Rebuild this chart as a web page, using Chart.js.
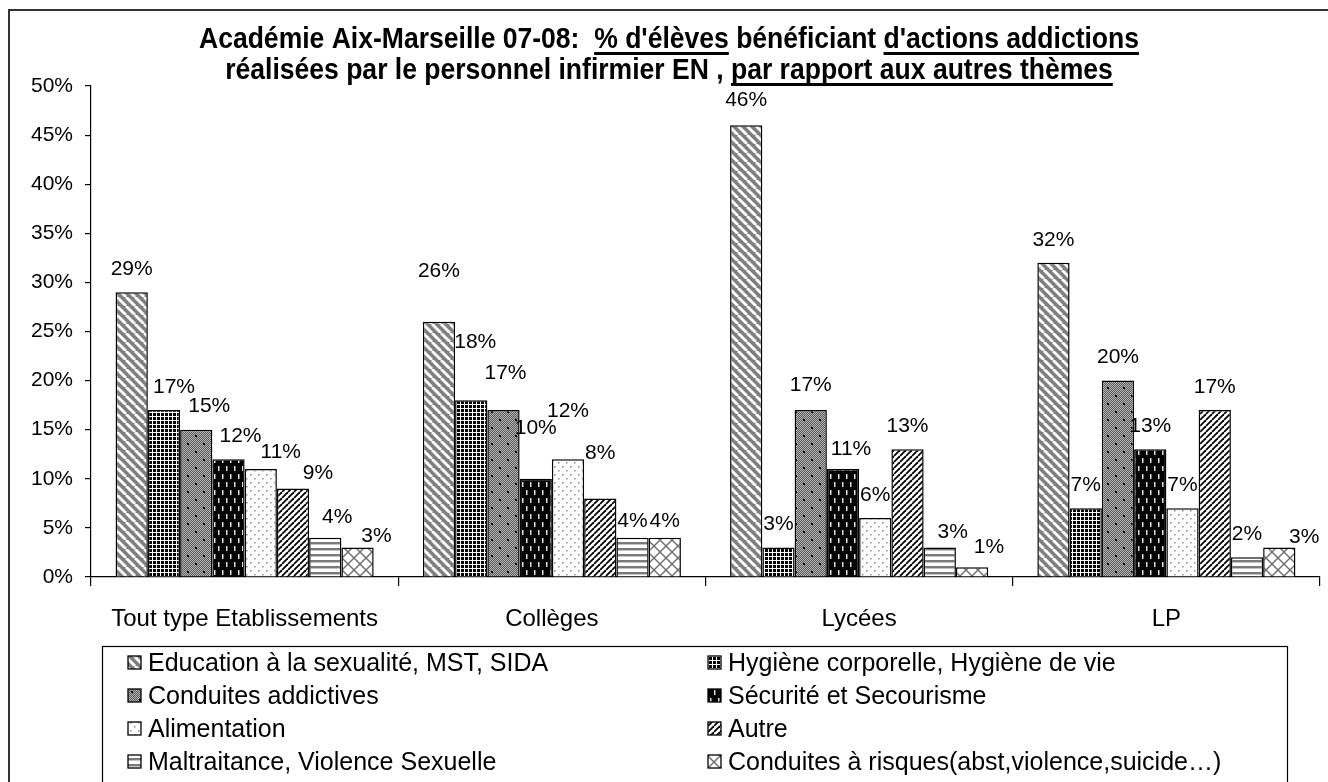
<!DOCTYPE html>
<html lang="fr">
<head>
<meta charset="UTF-8">
<title>Académie Aix-Marseille 07-08</title>
<script src="https://cdn.jsdelivr.net/npm/chart.js"></script>
<style>
  html, body { margin: 0; padding: 0; background: #fff; }
  #wrap { width: 1328px; height: 782px; position: relative; }
</style>
</head>
<body>
<div id="wrap"><canvas id="chart"></canvas></div>
<script>
// Data (percent of pupils)
const categories = ['Tout type Etablissements', 'Collèges', 'Lycées', 'LP'];
const themes = [
    'Education à la sexualité, MST, SIDA',
    'Hygiène corporelle, Hygiène de vie',
    'Conduites addictives',
    'Sécurité et Secourisme',
    'Alimentation',
    'Autre',
    'Maltraitance, Violence Sexuelle',
    'Conduites à risques(abst,violence,suicide…)'
];
const education    = [29, 26, 46, 32];
const hygiene      = [17, 18, 3, 7];
const addictives   = [15, 17, 17, 20];
const securite     = [12, 10, 11, 13];
const alimentation = [11, 12, 6, 7];
const autre        = [9, 8, 13, 17];
const maltraitance = [4, 4, 3, 2];
const risques      = [3, 4, 1, 3];
const yMax = 50;
const yStep = 5;

// the value labels were dragged around a bit in the original: [dx, dy] per label
const labelNudge = [
    [[0, 0],   [0, -27], [0, -2], [0, 0]],
    [[10, 0],  [4, -35], [0, 0],  [0, 0]],
    [[13, 0],  [2, -14], [0, -2], [0, 0]],
    [[12, 0],  [0, -28], [8, 3],  [0, 0]],
    [[20, 6],  [0, -25], [0, 0],  [0, 0]],
    [[25, 8],  [0, -22], [0, 0],  [0, 0]],
    [[12, 2],  [0, 6],   [13, 8], [0, 0]],
    [[19, 12], [0, 6],   [17, 3], [25, 13]]
];

const FONT = 'Arial, "Liberation Sans", sans-serif';

// --- fill patterns (black & white hatches like the original) ---
function makeTile(w, h, draw) {
    const c = document.createElement('canvas');
    c.width = w; c.height = h;
    const g = c.getContext('2d');
    draw(g, w, h);
    return document.createElement('canvas').getContext('2d').createPattern(c, 'repeat');
}

const patterns = [
    // Education: grey with white "\" stripes
    makeTile(9, 9, (g, s) => {
        g.fillStyle = '#7f7f7f'; g.fillRect(0, 0, s, s);
        g.strokeStyle = '#fff'; g.lineWidth = 2.8;
        [-s, 0, s].forEach(k => { g.beginPath(); g.moveTo(k, 0); g.lineTo(k + s, s); g.stroke(); });
    }),
    // Hygiène: black squares, white grid
    makeTile(4, 4, (g) => {
        g.fillStyle = '#fff'; g.fillRect(0, 0, 4, 4);
        g.fillStyle = '#000'; g.fillRect(1, 1, 3, 3);
    }),
    // Conduites addictives: grey dither with black dots
    makeTile(16, 16, (g) => {
        for (let y = 0; y < 16; y++) for (let x = 0; x < 16; x++) {
            g.fillStyle = (x + y) % 2 ? '#5a5a5a' : '#b4b4b4';
            g.fillRect(x, y, 1, 1);
        }
        g.fillStyle = '#000';
        g.fillRect(3, 3, 2, 2); g.fillRect(11, 11, 2, 2);
    }),
    // Sécurité: black with short white dashes
    makeTile(8, 16, (g) => {
        g.fillStyle = '#000'; g.fillRect(0, 0, 8, 16);
        g.fillStyle = '#e0e0e0';
        g.fillRect(2, 2, 1.5, 5); g.fillRect(6, 10, 1.5, 5);
    }),
    // Alimentation: white with small grey dots
    makeTile(8, 8, (g) => {
        g.fillStyle = '#fff'; g.fillRect(0, 0, 8, 8);
        g.fillStyle = '#8a8a8a';
        g.fillRect(2, 2, 1.5, 1.5); g.fillRect(6, 6, 1.5, 1.5);
    }),
    // Autre: black "/" stripes on white
    makeTile(6, 6, (g, s) => {
        g.fillStyle = '#fff'; g.fillRect(0, 0, s, s);
        g.strokeStyle = '#000'; g.lineWidth = 1.8;
        [-s, 0, s].forEach(k => { g.beginPath(); g.moveTo(k, s); g.lineTo(k + s, 0); g.stroke(); });
    }),
    // Maltraitance: horizontal grey bands
    makeTile(4, 6, (g) => {
        g.fillStyle = '#fff'; g.fillRect(0, 0, 4, 6);
        g.fillStyle = '#7a7a7a'; g.fillRect(0, 2, 4, 2);
        g.fillStyle = '#c4c4c4'; g.fillRect(0, 4, 4, 1);
    }),
    // Conduites à risques: grey diagonal lattice
    makeTile(12, 12, (g, s) => {
        g.fillStyle = '#fff'; g.fillRect(0, 0, s, s);
        g.strokeStyle = '#6e6e6e'; g.lineWidth = 1.4;
        [-s, 0, s].forEach(k => {
            g.beginPath(); g.moveTo(k, 0); g.lineTo(k + s, s); g.stroke();
            g.beginPath(); g.moveTo(k, s); g.lineTo(k + s, 0); g.stroke();
        });
    })
];

const seriesValues = [education, hygiene, addictives, securite, alimentation, autre, maltraitance, risques];

const datasets = themes.map((name, i) => ({
    label: name,
    data: seriesValues[i],
    backgroundColor: patterns[i],
    borderColor: '#000',
    borderWidth: 1.5,
    categoryPercentage: 0.84,
    barPercentage: 1.0
}));

// --- plugins ---
const frame = {
    id: 'frame',
    beforeDraw(chart) {
        const ctx = chart.ctx;
        ctx.save();
        ctx.fillStyle = '#fff';
        ctx.fillRect(0, 0, chart.width, chart.height);
        ctx.strokeStyle = '#333';
        ctx.lineWidth = 2;
        ctx.strokeRect(9, 10, chart.width + 20, chart.height + 20);
        ctx.restore();
    }
};

const titleLines = [
    [['Académie Aix-Marseille 07-08:  ', false], ["% d'élèves", true], [' bénéficiant ', false], ["d'actions addictions", true]],
    [['réalisées par le personnel infirmier EN , ', false], ['par rapport aux autres thèmes', true]]
];

const titlePlugin = {
    id: 'underlinedTitle',
    afterDraw(chart) {
        const ctx = chart.ctx;
        ctx.save();
        ctx.font = 'bold 30px ' + FONT;
        ctx.fillStyle = '#000';
        ctx.textBaseline = 'alphabetic';
        const widths = titleLines.map(line => line.reduce((s, p) => s + ctx.measureText(p[0]).width, 0));
        const sx = 940 / widths[0];
        const baselines = [48, 79];
        titleLines.forEach((line, li) => {
            ctx.save();
            ctx.translate(669, baselines[li]);
            ctx.scale(sx, 1);
            let x = -widths[li] / 2;
            line.forEach(([txt, under]) => {
                const w = ctx.measureText(txt).width;
                ctx.fillText(txt, x, 0);
                if (under) ctx.fillRect(x, 4, w, 3);
                x += w;
            });
            ctx.restore();
        });
        ctx.restore();
    }
};

const valueLabels = {
    id: 'valueLabels',
    afterDatasetsDraw(chart) {
        const ctx = chart.ctx;
        ctx.save();
        ctx.font = '21px ' + FONT;
        ctx.fillStyle = '#000';
        ctx.textAlign = 'center';
        ctx.textBaseline = 'middle';
        chart.data.datasets.forEach((ds, i) => {
            chart.getDatasetMeta(i).data.forEach((bar, j) => {
                const [dx, dy] = labelNudge[i][j];
                ctx.fillText(ds.data[j] + '%', bar.x + dx, bar.y - 23 + dy);
            });
        });
        ctx.restore();
    }
};

const boxLegend = {
    id: 'boxLegend',
    afterDraw(chart) {
        const ctx = chart.ctx;
        ctx.save();
        ctx.strokeStyle = '#000';
        ctx.lineWidth = 1.2;
        ctx.strokeRect(102.5, 646.5, 1185, 200);
        ctx.font = '25px ' + FONT;
        ctx.textBaseline = 'middle';
        const colX = [128, 708];
        chart.data.datasets.forEach((ds, i) => {
            const x = colX[i % 2];
            const y = 663 + Math.floor(i / 2) * 33;
            ctx.fillStyle = ds.backgroundColor;
            ctx.fillRect(x, y - 7, 13, 13);
            ctx.lineWidth = 1.3;
            ctx.strokeRect(x, y - 7, 13, 13);
            ctx.fillStyle = '#000';
            ctx.fillText(ds.label, x + 20, y + 1);
        });
        ctx.restore();
    }
};

new Chart(document.getElementById('chart'), {
    type: 'bar',
    data: { labels: categories, datasets: datasets },
    plugins: [frame, valueLabels, titlePlugin, boxLegend],
    options: {
        responsive: true,
        maintainAspectRatio: false,
        animation: false,
        devicePixelRatio: 1,
        layout: { padding: { top: 86, right: 8, bottom: 135, left: 0 } },
        plugins: {
            legend: { display: false },
            title: { display: false },
            tooltip: { enabled: false }
        },
        scales: {
            x: {
                grid: { display: true, drawOnChartArea: false, drawTicks: true, tickLength: 9, color: '#000', lineWidth: 1.2, offset: true },
                border: { display: true, color: '#000', width: 1.2 },
                ticks: { color: '#000', font: { family: FONT, size: 24 }, padding: 19, maxRotation: 0, autoSkip: false },
                afterFit(scale) { scale.height = 70; }
            },
            y: {
                min: 0,
                max: yMax,
                grid: { display: true, drawOnChartArea: false, drawTicks: true, tickLength: 6, color: '#000', lineWidth: 1.2 },
                border: { display: true, color: '#000', width: 1.2 },
                ticks: {
                    stepSize: yStep,
                    color: '#000',
                    font: { family: FONT, size: 21 },
                    padding: 12,
                    callback: v => v + '%'
                },
                afterFit(scale) { scale.width = 91; }
            }
        }
    }
});
</script>
</body>
</html>
